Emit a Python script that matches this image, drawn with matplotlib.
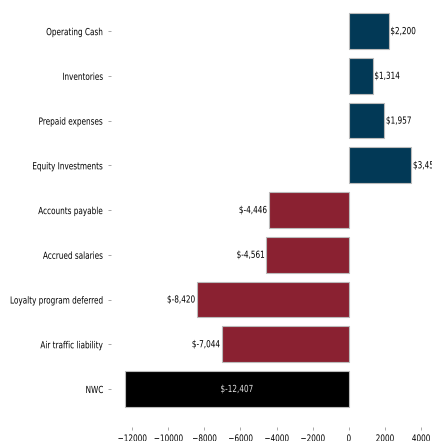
import matplotlib
matplotlib.use("Agg")
import matplotlib.pyplot as plt
from matplotlib.patheffects import AbstractPathEffect
from matplotlib.transforms import Affine2D
import numpy as np

# working capital items (in $)
items = ["Operating Cash", "Inventories", "Prepaid expenses", "Equity Investments",
         "Accounts payable", "Accrued salaries", "Loyalty program deferred",
         "Air traffic liability", "NWC"]
values = [2200, 1314, 1957, 3455, -4446, -4561, -8420, -7044, -12407]
xticks = [-12000, -10000, -8000, -6000, -4000, -2000, 0, 2000, 4000]


# squeeze text horizontally around its anchor (reference text looks condensed)
class Squeeze(AbstractPathEffect):
    def __init__(self, sx=0.75, ha="left"):
        super().__init__()
        self.sx = sx
        self.ha = ha

    def draw_path(self, renderer, gc, tpath, affine, rgbFace=None):
        ext = tpath.get_extents(affine)
        if self.ha == "left":
            x0 = ext.x0
        elif self.ha == "right":
            x0 = ext.x1
        else:
            x0 = (ext.x0 + ext.x1) / 2
        squeeze = Affine2D().translate(-x0, 0).scale(self.sx, 1).translate(x0, 0)
        renderer.draw_path(gc, tpath, affine + squeeze, rgbFace)


SX = 0.75
FS = 7

fig = plt.figure(figsize=(4.32, 4.41), dpi=100)
ax = fig.add_axes([110.5/432, 0.0327, (425.4-110.5)/432, 0.967])

# colour per bar: assets blue, liabilities red, total black
colors = []
for name, v in zip(items, values):
    if name == "NWC":
        colors.append("black")
    elif v >= 0:
        colors.append("#023956")
    else:
        colors.append("#8a2131")

y = np.arange(len(items))
ax.barh(y, values, height=0.8, color=colors, edgecolor="#bbbbbb", linewidth=0.8)

# value labels
for yi, name, v in zip(y, items, values):
    txt = "${:,}".format(v)
    if name == "NWC":
        t = ax.text(v/2, yi, txt, ha="center", va="center", color="#dddddd", fontsize=FS)
        t.set_path_effects([Squeeze(SX, "center")])
    elif v >= 0:
        t = ax.text(v + 90, yi, txt, ha="left", va="center", fontsize=FS, clip_on=False)
        t.set_path_effects([Squeeze(SX, "left")])
    else:
        t = ax.text(v - 90, yi, txt, ha="right", va="center", fontsize=FS)
        t.set_path_effects([Squeeze(SX, "right")])

ax.set_yticks(y)
ax.set_yticklabels(items, fontsize=FS)
ax.set_xticks(xticks)
ax.set_xticklabels([str(t).replace("-", "\u2212") for t in xticks], fontsize=FS)
ax.set_xlim(-13200, 4243)
ax.set_ylim(8.84, -0.693)

for lab in ax.get_yticklabels():
    lab.set_path_effects([Squeeze(SX, "right")])
for lab in ax.get_xticklabels():
    lab.set_path_effects([Squeeze(SX, "center")])

for s in ax.spines.values():
    s.set_visible(False)
ax.tick_params(axis="both", length=2.5, width=0.6, color="#999999", pad=2.5)

fig.savefig("out.png", dpi=100)
